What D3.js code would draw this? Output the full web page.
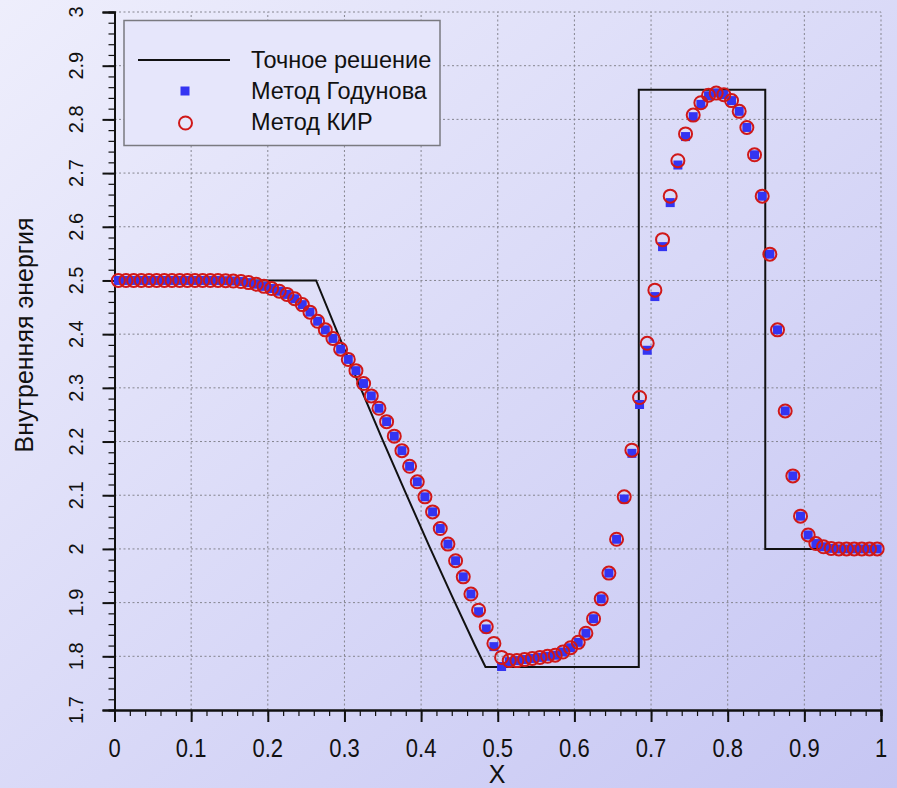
<!DOCTYPE html>
<html><head><meta charset="utf-8">
<script src="https://cdn.jsdelivr.net/npm/d3@7"></script>
<style>html,body{margin:0;padding:0;overflow:hidden;background:#e4e4fa}</style>
</head><body>
<script>
// ---- data ----
const xTicks = [0,0.1,0.2,0.3,0.4,0.5,0.6,0.7,0.8,0.9,1];
const xTickLabels = ["0","0.1","0.2","0.3","0.4","0.5","0.6","0.7","0.8","0.9","1"];
const yTicks = [1.7,1.8,1.9,2,2.1,2.2,2.3,2.4,2.5,2.6,2.7,2.8,2.9,3];
const yTickLabels = ["1.7","1.8","1.9","2","2.1","2.2","2.3","2.4","2.5","2.6","2.7","2.8","2.9","3"];

const exactX = [0, 0.263, 0.29, 0.32, 0.35, 0.38, 0.41, 0.44, 0.47, 0.484, 0.684, 0.684, 0.849, 0.849, 1];
const exactY = [2.5, 2.5, 2.406, 2.303, 2.202, 2.104, 2.007, 1.913, 1.821, 1.78, 1.78, 2.855, 2.855, 2.0, 2.0];

const cellX = [0.005,0.015,0.025,0.035,0.045,0.055,0.065,0.075,0.085,0.095,
0.105,0.115,0.125,0.135,0.145,0.155,0.165,0.175,0.185,0.195,
0.205,0.215,0.225,0.235,0.245,0.255,0.265,0.275,0.285,0.295,
0.305,0.315,0.325,0.335,0.345,0.355,0.365,0.375,0.385,0.395,
0.405,0.415,0.425,0.435,0.445,0.455,0.465,0.475,0.485,0.495,
0.505,0.515,0.525,0.535,0.545,0.555,0.565,0.575,0.585,0.595,
0.605,0.615,0.625,0.635,0.645,0.655,0.665,0.675,0.685,0.695,
0.705,0.715,0.725,0.735,0.745,0.755,0.765,0.775,0.785,0.795,
0.805,0.815,0.825,0.835,0.845,0.855,0.865,0.875,0.885,0.895,
0.905,0.915,0.925,0.935,0.945,0.955,0.965,0.975,0.985,0.995];

const godunov = [2.5,2.5,2.5,2.5,2.5,2.5,2.5,2.5,2.5,2.5,
2.5,2.5,2.5,2.5,2.4995,2.499,2.498,2.496,2.493,2.489,
2.485,2.480,2.474,2.466,2.455,2.441,2.424,2.408,2.392,2.372,
2.353,2.332,2.308,2.285,2.262,2.237,2.210,2.183,2.154,2.125,
2.097,2.069,2.038,2.009,1.978,1.948,1.916,1.883,1.851,1.818,
1.781,1.790,1.792,1.794,1.796,1.798,1.800,1.802,1.808,1.816,
1.826,1.843,1.870,1.907,1.955,2.018,2.093,2.178,2.269,2.370,
2.470,2.563,2.645,2.715,2.768,2.805,2.828,2.844,2.849,2.846,
2.835,2.815,2.785,2.734,2.657,2.549,2.408,2.257,2.136,2.061,
2.026,2.010,2.004,2.001,2.0,2.0,2.0,2.0,2.0,2.0];

const kir = [2.5,2.5,2.5,2.5,2.5,2.5,2.5,2.5,2.5,2.5,
2.5,2.5,2.5,2.5,2.4995,2.499,2.498,2.496,2.493,2.489,
2.485,2.480,2.474,2.466,2.455,2.441,2.424,2.408,2.392,2.372,
2.353,2.332,2.308,2.285,2.262,2.237,2.210,2.183,2.154,2.125,
2.097,2.069,2.038,2.009,1.978,1.948,1.916,1.886,1.855,1.824,
1.798,1.792,1.792,1.794,1.796,1.798,1.800,1.802,1.808,1.816,
1.826,1.843,1.870,1.907,1.955,2.018,2.097,2.184,2.282,2.383,
2.482,2.576,2.657,2.723,2.773,2.808,2.831,2.845,2.849,2.846,
2.835,2.815,2.785,2.734,2.657,2.549,2.408,2.257,2.136,2.061,
2.026,2.010,2.004,2.001,2.0,2.0,2.0,2.0,2.0,2.0];

const legendLabels = ["Точное решение","Метод Годунова","Метод КИР"];
const xTitle = "X";
const yTitle = "Внутренняя энергия";

// ---- drawing ----
const W = 897, H = 788;
const svg = d3.select("body").append("svg").attr("width", W).attr("height", H);
const defs = svg.append("defs");
const grad = defs.append("linearGradient").attr("id","bg").attr("x1","0").attr("y1","0").attr("x2","1").attr("y2","1");
grad.append("stop").attr("offset","0").attr("stop-color","#eeeefc");
grad.append("stop").attr("offset","1").attr("stop-color","#c6c6f3");
svg.append("rect").attr("width",W).attr("height",H).attr("fill","url(#bg)");

const x = d3.scaleLinear().domain([0,1]).range([114.5, 881]);
const y = d3.scaleLinear().domain([1.7,3]).range([710, 12]);
const font = "'Liberation Sans', Arial, sans-serif";

// grid
const grid = svg.append("g").attr("stroke","#85858f").attr("stroke-width",1).attr("stroke-dasharray","2,2.5");
grid.selectAll(".gx").data(xTicks.slice(1)).join("line")
  .attr("x1",d=>x(d)).attr("x2",d=>x(d)).attr("y1",y(1.7)).attr("y2",y(3));
grid.selectAll(".gy").data(yTicks.slice(1)).join("line")
  .attr("x1",x(0)).attr("x2",x(1)).attr("y1",d=>y(d)).attr("y2",d=>y(d));

// axes
const xMinor = d3.range(0, 1.0001, 0.02);
const yMinor = d3.range(1.7, 3.0001, 0.02);
const xAxisMinor = d3.axisBottom(x).tickValues(xMinor).tickSize(6).tickFormat("");
const xAxisMajor = d3.axisBottom(x).tickValues(xTicks).tickSize(12).tickFormat("");
const yAxisMinor = d3.axisLeft(y).tickValues(yMinor).tickSize(6).tickFormat("");
const yAxisMajor = d3.axisLeft(y).tickValues(yTicks).tickSize(12).tickFormat("");
function styleAxis(g){ g.select(".domain").attr("stroke","#111").attr("stroke-width",2);
  g.selectAll(".tick line").attr("stroke","#111").attr("stroke-width",1.2); }
svg.append("g").attr("transform",`translate(0,${y(1.7)})`).call(xAxisMinor).call(styleAxis);
svg.append("g").attr("transform",`translate(0,${y(1.7)})`).call(xAxisMajor).call(styleAxis)
  .selectAll(".tick line").attr("stroke-width",2);
svg.append("g").attr("transform",`translate(${x(0)},0)`).call(yAxisMinor).call(styleAxis);
svg.append("g").attr("transform",`translate(${x(0)},0)`).call(yAxisMajor).call(styleAxis)
  .selectAll(".tick line").attr("stroke-width",2);

// tick labels
svg.append("g").selectAll("text").data(xTicks).join("text")
  .attr("transform",d=>`translate(${x(d)},757) scale(1,1.15)`).attr("text-anchor","middle")
  .attr("font-family",font).attr("font-size",22).attr("fill","#111")
  .text((d,i)=>xTickLabels[i]);
svg.append("g").selectAll("text").data(yTicks).join("text")
  .attr("transform",d=>`translate(83,${y(d)}) rotate(-90)`).attr("text-anchor","middle")
  .attr("font-family",font).attr("font-size",20).attr("fill","#111")
  .text((d,i)=>yTickLabels[i]);

// titles
svg.append("text").attr("x",497).attr("y",783).attr("text-anchor","middle")
  .attr("font-family",font).attr("font-size",25).attr("fill","#111").text(xTitle);
svg.append("text").attr("transform","translate(33,335) rotate(-90)").attr("text-anchor","middle")
  .attr("font-family",font).attr("font-size",25).attr("fill","#111").text(yTitle);

// exact solution
const line = d3.line().x(d=>x(d[0])).y(d=>y(d[1]));
svg.append("path").datum(exactX.map((v,i)=>[v,exactY[i]])).attr("d",line)
  .attr("fill","none").attr("stroke","#111").attr("stroke-width",2);

// markers
const sq = 9;
svg.append("g").selectAll("rect").data(cellX).join("rect")
  .attr("x",(d)=>x(d)-sq/2).attr("y",(d,i)=>y(godunov[i])-sq/2)
  .attr("width",sq).attr("height",sq).attr("fill","#3434f2");
svg.append("g").selectAll("circle").data(cellX).join("circle")
  .attr("cx",d=>x(d)).attr("cy",(d,i)=>y(kir[i])).attr("r",6.5)
  .attr("fill","none").attr("stroke","#d01818").attr("stroke-width",2);

// legend
const lg = svg.append("g");
lg.append("rect").attr("x",124).attr("y",20.5).attr("width",316).attr("height",125)
  .attr("fill","#e6e6fb").attr("stroke","#7a7a80").attr("stroke-width",1.5);
lg.append("line").attr("x1",138).attr("x2",230).attr("y1",60).attr("y2",60)
  .attr("stroke","#111").attr("stroke-width",2);
lg.append("rect").attr("x",185-4.5).attr("y",91-4.5).attr("width",9).attr("height",9).attr("fill","#3434f2");
lg.append("circle").attr("cx",185.5).attr("cy",123).attr("r",6.5)
  .attr("fill","none").attr("stroke","#d01818").attr("stroke-width",2);
lg.selectAll("text").data(legendLabels).join("text")
  .attr("x",251).attr("y",(d,i)=>68+i*31)
  .attr("font-family",font).attr("font-size",23.5).attr("fill","#111").text(d=>d);
</script>
</body></html>
